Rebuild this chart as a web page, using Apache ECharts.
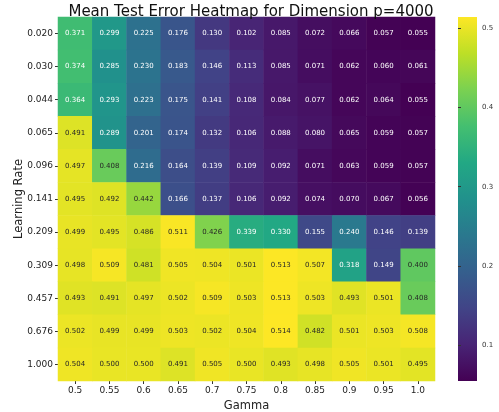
<!DOCTYPE html>
<html><head><meta charset="utf-8">
<script src="https://cdn.jsdelivr.net/npm/echarts@6/dist/echarts.min.js"></script>
<style>html,body{margin:0;padding:0;background:#fff}#c{width:499px;height:412px}</style>
</head><body><div id="c"></div>
<script>
const gammas = ['0.5','0.55','0.6','0.65','0.7','0.75','0.8','0.85','0.9','0.95','1.0'];
const learningRates = ['0.020','0.030','0.044','0.065','0.096','0.141','0.209','0.309','0.457','0.676','1.000'];
const row020 = [0.371,0.299,0.225,0.176,0.130,0.102,0.085,0.072,0.066,0.057,0.055];
const row030 = [0.374,0.285,0.230,0.183,0.146,0.113,0.085,0.071,0.062,0.060,0.061];
const row044 = [0.364,0.293,0.223,0.175,0.141,0.108,0.084,0.077,0.062,0.064,0.055];
const row065 = [0.491,0.289,0.201,0.174,0.132,0.106,0.088,0.080,0.065,0.059,0.057];
const row096 = [0.497,0.408,0.216,0.164,0.139,0.109,0.092,0.071,0.063,0.059,0.057];
const row141 = [0.495,0.492,0.442,0.166,0.137,0.106,0.092,0.074,0.070,0.067,0.056];
const row209 = [0.499,0.495,0.486,0.511,0.426,0.339,0.330,0.155,0.240,0.146,0.139];
const row309 = [0.498,0.509,0.481,0.505,0.504,0.501,0.513,0.507,0.318,0.149,0.400];
const row457 = [0.493,0.491,0.497,0.502,0.509,0.503,0.513,0.503,0.493,0.501,0.408];
const row676 = [0.502,0.499,0.499,0.503,0.502,0.504,0.514,0.482,0.501,0.503,0.508];
const row1000 = [0.504,0.500,0.500,0.491,0.505,0.500,0.493,0.498,0.505,0.501,0.495];
const rows = [row020,row030,row044,row065,row096,row141,row209,row309,row457,row676,row1000];
const colorbarTicks = [0.1,0.2,0.3,0.4,0.5];
const vMin = 0.055, vMax = 0.514;

const viridis = ['#440154','#482475','#414487','#355f8d','#2a788e','#21918c','#22a884','#44bf70','#7ad151','#bddf26','#fde725'];
const font = 'DejaVu Sans';
const data = [];
rows.forEach((r, yi) => r.forEach((v, xi) => {
  data.push({value: [xi, yi, v], label: {color: v > 0.39 ? '#262626' : '#ffffff'}});
}));

const chart = echarts.init(document.getElementById('c'), null, {renderer: 'canvas'});
chart.setOption({
  animation: false,
  backgroundColor: '#fff',
  textStyle: {fontFamily: font},
  title: {
    text: 'Mean Test Error Heatmap for Dimension p=4000',
    left: 246, top: 0, textAlign: 'center',
    textStyle: {fontFamily: font, fontSize: 15, fontWeight: 'normal', color: '#111'}
  },
  grid: [
    {left: 58, top: 17, width: 377, height: 364, containLabel: false, outerBoundsMode: 'none'},
    {left: 458, top: 17, width: 19, height: 364, containLabel: false, outerBoundsMode: 'none'}
  ],
  xAxis: [
    {type: 'category', data: gammas, gridIndex: 0,
     name: 'Gamma', nameLocation: 'middle', nameGap: 17,
     nameTextStyle: {fontFamily: font, fontSize: 11.5, color: '#222'},
     axisLine: {show: false}, axisTick: {show: true, alignWithLabel: true, length: 3, lineStyle: {color: '#333'}},
     axisLabel: {fontFamily: font, fontSize: 9, color: '#222', margin: 5}, splitLine: {show: false}},
    {type: 'value', gridIndex: 1, show: false, min: 0, max: 1}
  ],
  yAxis: [
    {type: 'category', data: learningRates, inverse: true, gridIndex: 0,
     name: 'Learning Rate', nameLocation: 'middle', nameGap: 33, nameRotate: 90, nameMoveOverlap: false,
     nameTextStyle: {fontFamily: font, fontSize: 11.5, color: '#222'},
     axisLine: {show: false}, axisTick: {show: true, alignWithLabel: true, length: 3, lineStyle: {color: '#333'}},
     axisLabel: {fontFamily: font, fontSize: 9, color: '#222', margin: 5}, splitLine: {show: false}},
    {type: 'value', gridIndex: 1, position: 'right', min: vMin, max: vMax,
     name: 'Mean Test Error', nameLocation: 'middle', nameGap: 31, nameRotate: -90,
     nameTextStyle: {fontFamily: font, fontSize: 6.5, color: '#222'},
     axisLine: {show: false},
     axisTick: {show: true, length: 3, customValues: colorbarTicks, lineStyle: {color: '#333'}},
     axisLabel: {fontFamily: font, fontSize: 7, color: '#333', margin: 5, customValues: colorbarTicks,
       formatter: v => v.toFixed(1)},
     splitLine: {show: false}}
  ],
  visualMap: {show: false, min: vMin, max: vMax, dimension: 2, seriesIndex: 0, inRange: {color: viridis}},
  graphic: [{
    type: 'rect', left: 458, top: 17, z: -1,
    shape: {width: 19, height: 364},
    style: {fill: new echarts.graphic.LinearGradient(0, 1, 0, 0,
      viridis.map((c, i) => ({offset: i / (viridis.length - 1), color: c})))}
  }],
  series: [{
    type: 'heatmap', xAxisIndex: 0, yAxisIndex: 0, data: data,
    label: {show: true, fontFamily: font, fontSize: 7, formatter: p => p.value[2].toFixed(3)},
    itemStyle: {borderWidth: 0}
  }]
});
</script></body></html>
